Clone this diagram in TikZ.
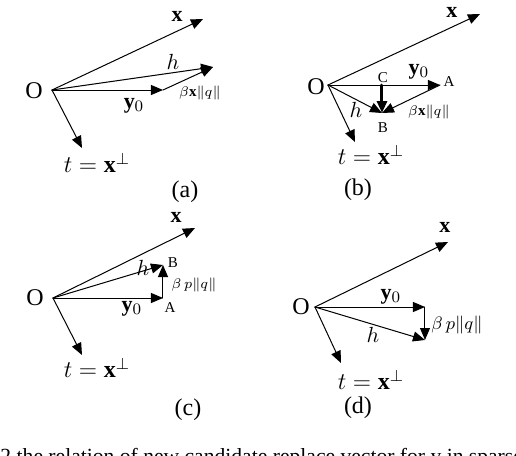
\documentclass[tikz,border=0pt]{standalone}
\usepackage{amsmath}
\usepackage{fontspec}
\setmainfont{Liberation Serif}
\usetikzlibrary{arrows.meta}
\tikzset{
  lab/.style={inner sep=0pt,font=\fontsize{12}{14}\selectfont},
  vlab/.style={inner sep=0pt,font=\fontsize{11}{13}\selectfont},
  slab/.style={inner sep=0pt,font=\fontsize{7.5}{9}\selectfont},
  pt/.style={inner sep=0pt,font=\fontsize{7.5}{9}\selectfont},
}

\begin{document}
\begin{tikzpicture}[line cap=round,line join=round,>={Triangle[length=6pt,width=5pt]},x=0.5pt,y=-0.5pt,line width=0.5pt]
\useasboundingbox (0,0) rectangle (516,456);
\clip (0,0) rectangle (516,456);
% (a)
\coordinate (Oa) at (52,90);
\coordinate (Xa) at (203,19);
\coordinate (Ha) at (213,67);
\coordinate (Ya) at (163,90);
\coordinate (Ta) at (82,148);
\draw [->] (Oa)-- (Xa);
\draw [->] (Oa)-- (Ha);
\draw [->] (Oa)-- (Ya);
\draw [->] (Ya)-- (Ha);
\draw [->] (Oa)-- (Ta);
\node[lab] (oa) at (34,91) {O};
\node[vlab] (xa) at (177,16) {$\mathbf{x}$};
\node[vlab] (ha) at (173,62) {$h$};
\node[vlab] (ya) at (134,106) {$\mathbf{y}_0$};
\node[slab] (ba) at (200,93) {$\beta\mathbf{x}\|q\|$};
\node[lab] (ta) at (97,163) {$t=\mathbf{x}^{\perp}$};
\node[lab] (capa) at (185,192) {(a)};
% (b)
\coordinate (Ob) at (328,85);
\coordinate (Xb) at (480,14);
\coordinate (Ab) at (440,85);
\coordinate (Cb) at (382,85);
\coordinate (Bb) at (382,113);
\coordinate (Tb) at (355,142);
\draw [->] (Ob)-- (Xb);
\draw [->] (Ob)-- (Ab);
\draw [->] (Ob)-- (Bb);
\draw [->] (Ab)-- (Bb);
\draw [->,line width=1.5pt] (Cb)-- (Bb);
\draw [->] (Ob)-- (Tb);
\node[lab] (ob) at (316,87) {O};
\node[vlab] (xb) at (452,12) {$\mathbf{x}$};
\node[vlab] (yb) at (419,72) {$\mathbf{y}_0$};
\node[pt] (la) at (449,82) {A};
\node[pt] (lc) at (383,78) {C};
\node[pt] (lb) at (383,128) {B};
\node[vlab] (hb) at (356,110) {$h$};
\node[slab] (bb) at (429,112) {$\beta\mathbf{x}\|q\|$};
\node[lab] (tb) at (371,155) {$t=\mathbf{x}^{\perp}$};
\node[lab] (capb) at (358,190) {(b)};
% (c)
\coordinate (Oc) at (53,298);
\coordinate (Xc) at (195,228);
\coordinate (Ac) at (163,298);
\coordinate (Bc) at (163,265);
\coordinate (Tc) at (82,355);
\draw [->] (Oc)-- (Xc);
\draw [->] (Oc)-- (Ac);
\draw [->] (Oc)-- (Bc);
\draw [->] (Ac)-- (Bc);
\draw [->] (Oc)-- (Tc);
\node[lab] (oc) at (35,298) {O};
\node[vlab] (xc) at (176,217) {$\mathbf{x}$};
\node[vlab] (yc) at (132,309) {$\mathbf{y}_0$};
\node[pt] (lac) at (170,308) {A};
\node[pt] (lbc) at (173,263) {B};
\node[vlab] (hc) at (143,268) {$h$};
\node[slab] (bc) at (194,285) {$\beta\,p\|q\|$};
\node[lab] (tc) at (97,368) {$t=\mathbf{x}^{\perp}$};
\node[lab] (capc) at (188,410) {(c)};
% (d)
\coordinate (Od) at (315,307);
\coordinate (Xd) at (448,242);
\coordinate (Yd) at (425,307);
\coordinate (Hd) at (425,340);
\coordinate (Td) at (341,363);
\draw [->] (Od)-- (Xd);
\draw [->] (Od)-- (Yd);
\draw [->] (Od)-- (Hd);
\draw [->] (Yd)-- (Hd);
\draw [->] (Od)-- (Td);
\node[lab] (od) at (301,307) {O};
\node[vlab] (xd) at (445,227) {$\mathbf{x}$};
\node[vlab] (yd) at (391,297) {$\mathbf{y}_0$};
\node[vlab] (hd) at (373,335) {$h$};
\node[inner sep=0pt,font=\fontsize{9.5}{11}\selectfont] (bd) at (457,325) {$\beta\,p\|q\|$};
\node[lab] (td) at (371,380) {$t=\mathbf{x}^{\perp}$};
\node[lab] (capd) at (358,408) {(d)};
% caption
\node[inner sep=0pt,anchor=base west,font=\fontsize{10.8}{13}\selectfont] (cap) at (0,463) {2 the relation of new candidate replace vector for y in sparse};
\end{tikzpicture}
\end{document}
